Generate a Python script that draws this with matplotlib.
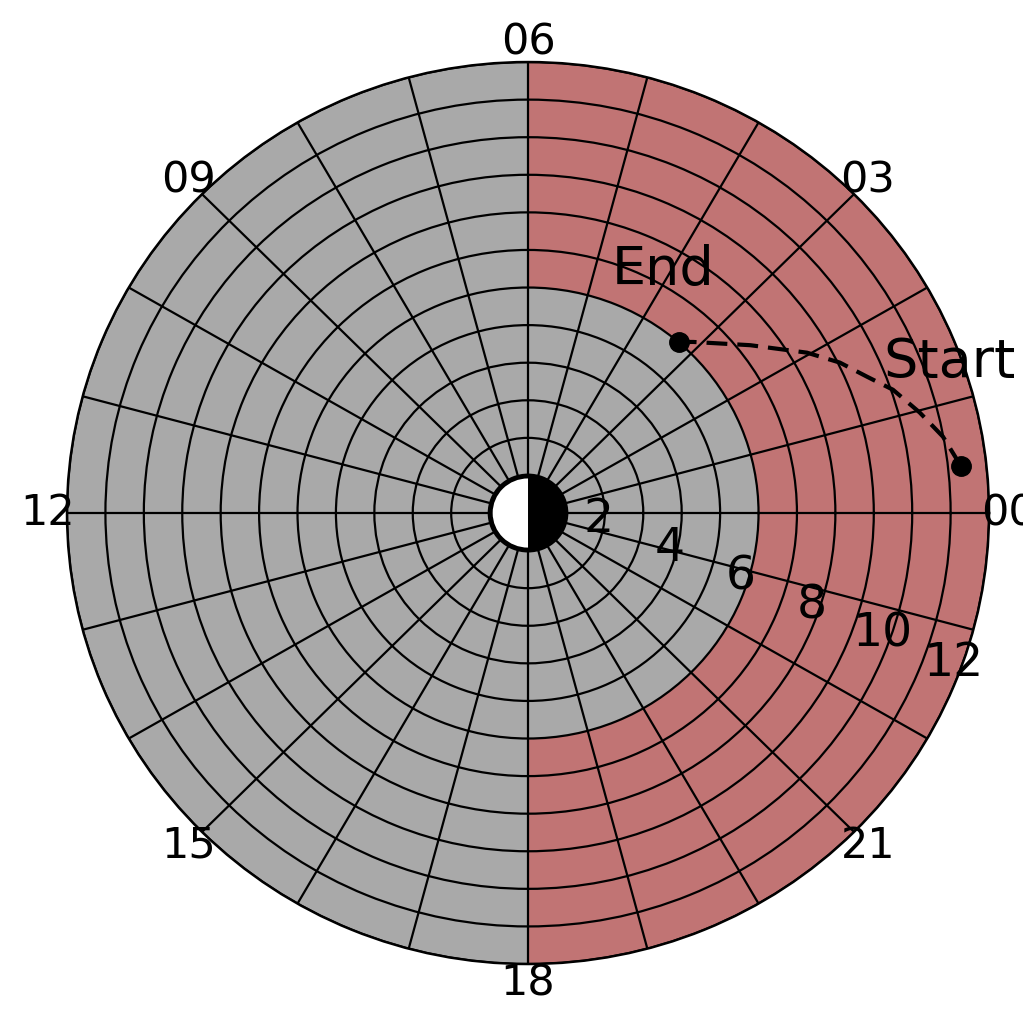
import numpy as np
import matplotlib
matplotlib.use("Agg")
import matplotlib.pyplot as plt

# Magnetic local time dial: hours on the angle, radial distance on r
hour_ticks = list(range(24))
hour_labels = [f"{h:02d}" if h % 3 == 0 else "" for h in hour_ticks]
r_ticks = list(range(1, 13))
r_labels = [str(r) if r % 2 == 0 else "" for r in r_ticks]
r_max = 12

# Shaded night-side outer region (MLT 18 -> 06 through midnight)
night_mlt = (18, 30)
night_r = (6, 12)

# Trajectory samples (MLT hours, radial distance), first = start
traj_mlt = [0.42, 0.71, 0.98, 1.27, 1.49, 1.75, 2.03, 2.51, 3.11, 3.28]
traj_r = [11.34, 10.99, 10.54, 10.05, 9.54, 9.05, 8.42, 7.31, 6.26, 6.01]
traj_names = ["Start", "End"]

gray = "#a9a9a9"
red = "#c17474"


def mlt2rad(h):
    return np.asarray(h, dtype=float) * np.pi / 12.0


fig = plt.figure(figsize=(10.23, 10.17), dpi=100)
ax = fig.add_axes([0.0655, 0.0521, 0.9013, 0.8869], projection="polar")
ax.set_aspect("auto")
ax.set_facecolor(gray)

# night-side band
t0, t1 = mlt2rad(night_mlt)
ax.bar((t0 + t1) / 2, night_r[1] - night_r[0], width=t1 - t0,
       bottom=night_r[0], color=red, edgecolor="none", zorder=1)

# Earth symbol: dark night half, white day half
ax.bar(0, 1.05, width=2 * np.pi, bottom=0, color="black",
       edgecolor="none", zorder=3)
ax.bar(np.pi, 0.92, width=np.pi, bottom=0, color="white",
       edgecolor="none", zorder=4)

# trajectory
th = mlt2rad(traj_mlt)
ax.plot(th, traj_r, color="black", ls="--", lw=3, dashes=(5, 2.4),
        zorder=5)
ax.plot(th[[0, -1]], [traj_r[0], traj_r[-1]], "o", color="black", ms=14,
        zorder=6)
ax.annotate(traj_names[0], (th[0], traj_r[0]), xytext=(-12, 89),
            textcoords="offset pixels", ha="center", va="baseline",
            fontsize=39, zorder=7)
ax.annotate(traj_names[1], (th[-1], traj_r[-1]), xytext=(-16, 57),
            textcoords="offset pixels", ha="center", va="baseline",
            fontsize=39, zorder=7)

ax.set_xticks(mlt2rad(hour_ticks))
ax.set_xticklabels(hour_labels, fontsize=31)
ax.set_ylim(0, r_max)
ax.set_yticks(r_ticks)
ax.set_yticklabels(r_labels, fontsize=34)
ax.set_rlabel_position(-22.5)
for lab in ax.get_yticklabels():
    lab.set_horizontalalignment("center")
ax.grid(True, color="black", lw=1.6)
ax.spines["polar"].set_linewidth(1.8)
ax.spines["polar"].set_color("black")

fig.savefig("out.png", dpi=100)
